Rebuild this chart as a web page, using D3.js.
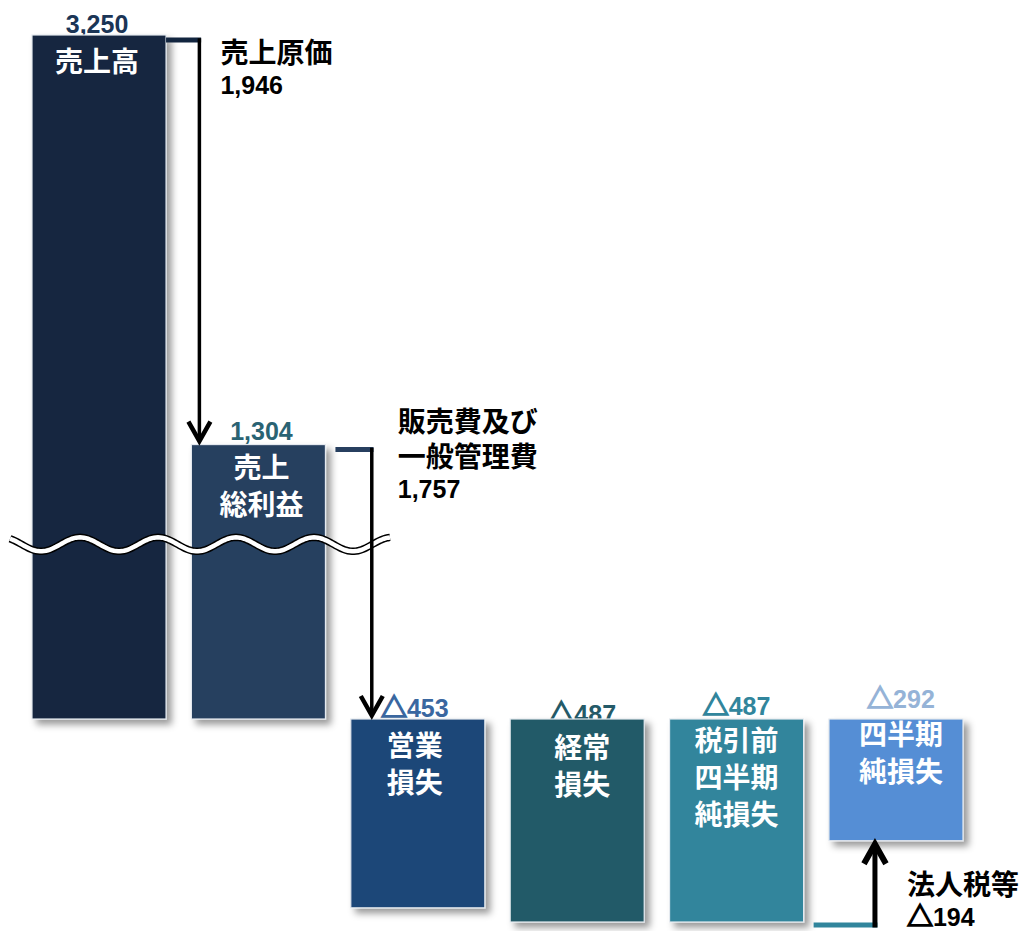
<!DOCTYPE html>
<html>
<head>
<meta charset="utf-8">
<script src="https://cdn.jsdelivr.net/npm/d3@7"></script>
<style>
  body { margin: 0; background: #fff; }
  svg { display: block; }
  .jp { font-family: "Noto Sans CJK JP", sans-serif; font-weight: bold; }
  .num { font-family: "Liberation Sans", Arial, sans-serif; font-weight: bold; }
  .tri { font-family: "Noto Sans CJK JP", sans-serif; font-weight: bold; stroke-width: 1.6px; }
</style>
</head>
<body>
<svg id="chart" width="1020" height="931"></svg>
<script>
// bars of the waterfall
var categories = ["売上高", "売上総利益", "営業損失", "経常損失", "税引前四半期純損失", "四半期純損失"];
var barLines = [["売上高"], ["売上", "総利益"], ["営業", "損失"], ["経常", "損失"], ["税引前", "四半期", "純損失"], ["四半期", "純損失"]];
var values = [3250, 1304, -453, -487, -487, -292];

// steps between bars (arrows)
var stepNames = [["売上原価"], ["販売費及び", "一般管理費"], ["法人税等"]];
var stepValues = [1946, 1757, -194];
var stepFrom = [0, 1, 4];

// where the axis break is drawn
var breakValue = 830;

var barColors = ["#12253f", "#273f5f", "#1f4678", "#225a67", "#31859c", "#558ed5"];
var valueColors = ["#1b3556", "#2a6373", "#3a67a0", "#245a68", "#31859c", "#95b3d7"];

// small per-bar nudges for the text, as in the original slide
var textDx = [-2, 3, -3, 5, 0, 5],
    valueDy = [-2, -5, -2, 4, -4, -11],
    innerDy = [37, 33, 37, 39, 32, 26],
    hOff = [0, 10, 10],
    arrowOff = [8, 21, 46],
    annDx = [21, 26, 32],
    annDy = [23, -18, -30];

var fmt = d3.format(",");
function label(v) { return v < 0 ? ["△", fmt(-v)] : ["", fmt(v)]; }

var svg = d3.select("#chart");

var x = d3.scaleBand()
    .domain(categories)
    .range([32, 963])
    .paddingInner(0.159)
    .paddingOuter(0);

var y = d3.scaleLinear()
    .domain([d3.min(values), 0, d3.max(values)])
    .range([922, 719, 35]);

function barTop(i) { return Math.min(y(values[i]), y(0)); }
function barBottom(i) { return Math.max(y(values[i]), y(0)); }
function cx(i) { return x(categories[i]) + x.bandwidth() / 2; }

var defs = svg.append("defs");
var f = defs.append("filter").attr("id", "shadow")
    .attr("x", "-10%").attr("y", "-10%").attr("width", "130%").attr("height", "130%");
f.append("feDropShadow")
    .attr("dx", 5).attr("dy", 5)
    .attr("stdDeviation", 3.5)
    .attr("flood-color", "#000")
    .attr("flood-opacity", 0.4);

// value labels (drawn under the bars, one of them is partly hidden)
var vl = svg.append("g").selectAll("text")
    .data(values)
  .enter().append("text")
    .attr("x", function(d, i) { return cx(i) + textDx[i]; })
    .attr("y", function(d, i) { return barTop(i) + valueDy[i]; })
    .attr("text-anchor", "middle")
    .attr("fill", function(d, i) { return valueColors[i]; });
vl.append("tspan").attr("class", "tri").style("font-size", "26px")
    .attr("stroke", function(d, i) { return valueColors[i]; })
    .text(function(d) { return label(d)[0]; });
vl.append("tspan").attr("class", "num").style("font-size", "25px")
    .text(function(d) { return label(d)[1]; });

// bars
svg.append("g").selectAll("rect")
    .data(values)
  .enter().append("rect")
    .attr("x", function(d, i) { return x(categories[i]); })
    .attr("y", function(d, i) { return barTop(i); })
    .attr("width", x.bandwidth())
    .attr("height", function(d, i) { return barBottom(i) - barTop(i); })
    .attr("fill", function(d, i) { return barColors[i]; })
    .attr("stroke", "#e4e9ef")
    .attr("stroke-width", 1.2)
    .attr("filter", "url(#shadow)");

// labels inside bars
var inner = svg.append("g").selectAll("text")
    .data(barLines)
  .enter().append("text")
    .attr("class", "jp")
    .attr("fill", "#fff")
    .attr("text-anchor", "middle")
    .style("font-size", "28px");
inner.each(function(lines, i) {
  d3.select(this).selectAll("tspan")
      .data(lines)
    .enter().append("tspan")
      .attr("x", cx(i) + textDx[i])
      .attr("y", function(d, j) { return barTop(i) + innerDy[i] + j * 37; })
      .text(function(d) { return d; });
});

// axis break wave
var yb = y(breakValue),
    wx0 = x(categories[0]) - 22,
    wx1 = x(categories[1]) + x.bandwidth() + 65,
    pts = [];
for (var wx = wx0; wx <= wx1; wx += 2) {
  pts.push([wx, yb - 7 * Math.cos(2 * Math.PI * (wx - 80) / 78)]);
}
var wave = d3.line();
svg.append("path").attr("d", wave(pts))
    .attr("fill", "none").attr("stroke", "#000").attr("stroke-width", 7.5);
svg.append("path").attr("d", wave(pts))
    .attr("fill", "none").attr("stroke", "#fff").attr("stroke-width", 4.5);

// step connectors and arrows
var steps = svg.append("g");
stepValues.forEach(function(v, s) {
  var from = stepFrom[s], to = from + 1,
      down = v > 0,
      xs = x(categories[from]) + x.bandwidth() + hOff[s],
      xa = x(categories[to]) + arrowOff[s],
      y0 = down ? barTop(from) + 5 : barBottom(from) + 3,
      tip = down ? barTop(to) - 2 : barBottom(to) + 2,
      sw = down ? 3.5 : 5,
      dir = down ? -1 : 1;

  steps.append("line")
      .attr("x1", xs).attr("x2", xa + sw / 2)
      .attr("y1", y0).attr("y2", y0)
      .attr("stroke", barColors[from])
      .attr("stroke-width", 5);

  steps.append("line")
      .attr("x1", xa).attr("x2", xa)
      .attr("y1", y0 - (down ? sw / 2 : -sw / 2)).attr("y2", tip + dir * 3)
      .attr("stroke", "#000")
      .attr("stroke-width", sw);

  steps.append("path")
      .attr("d", d3.line()([[xa - 11, tip + dir * 21], [xa, tip + dir * 1.5], [xa + 11, tip + dir * 21]]))
      .attr("fill", "none")
      .attr("stroke", "#000")
      .attr("stroke-width", sw + 1)
      .attr("stroke-linejoin", "miter");

  var ax = xa + annDx[s], ay = y0 + annDy[s];
  var lines = stepNames[s];
  lines.forEach(function(t, j) {
    steps.append("text")
        .attr("class", "jp")
        .attr("x", ax)
        .attr("y", ay + j * 35)
        .style("font-size", "28px")
        .attr("fill", "#000")
        .text(t);
  });
  var nt = steps.append("text")
      .attr("x", ax)
      .attr("y", ay + (lines.length - 1) * 35 + 31)
      .attr("fill", "#000");
  nt.append("tspan").attr("class", "tri").style("font-size", "26px")
      .attr("stroke", "#000").text(label(v)[0]);
  nt.append("tspan").attr("class", "num").style("font-size", "25px").text(label(v)[1]);
});
</script>
</body>
</html>
